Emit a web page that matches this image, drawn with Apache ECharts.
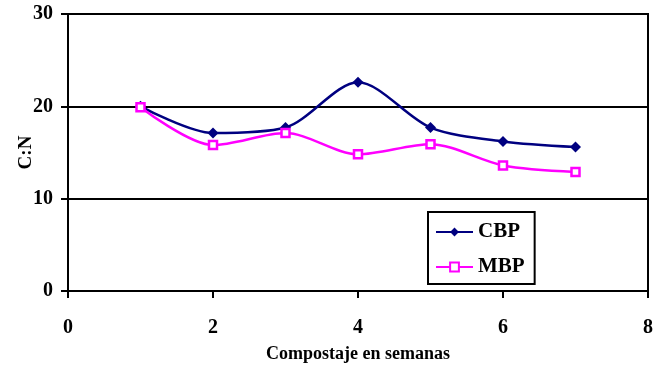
<!DOCTYPE html>
<html>
<head>
<meta charset="utf-8">
<script src="https://cdn.jsdelivr.net/npm/echarts@6/dist/echarts.min.js"></script>
<style>html,body{margin:0;padding:0;background:#fff}#c{width:656px;height:368px}</style>
</head>
<body>
<div id="c"></div>
<script>
var weeks = [1, 2, 3, 4, 5, 6, 7];
var cbp = [20.0, 17.1, 17.7, 22.6, 17.7, 16.2, 15.6];
var mbp = [19.9, 15.8, 17.1, 14.8, 15.9, 13.6, 12.9];
var xTicks = [0, 2, 4, 6, 8];
var yTicks = [0, 10, 20, 30];

function pairs(xs, ys) { return xs.map(function (x, i) { return [x, ys[i]]; }); }

var font = '"Liberation Serif", "Times New Roman", serif';
var chart = echarts.init(document.getElementById('c'), null, {renderer: 'canvas'});
chart.setOption({
  backgroundColor: '#ffffff',
  animation: false,
  grid: {left: 68, right: 6, top: 14, bottom: 76, show: true, borderColor: '#000', borderWidth: 2, containLabel: false},
  legend: {
    orient: 'vertical', left: 428, top: 212,
    padding: [9, 10, 6, 7], itemGap: 13, itemWidth: 37, itemHeight: 11,
    borderColor: '#000', borderWidth: 2, borderRadius: 0,
    textStyle: {fontFamily: font, fontWeight: 'bold', fontSize: 21, color: '#000', lineHeight: 22},
    data: ['CBP', 'MBP']
  },
  xAxis: {
    type: 'value', min: xTicks[0], max: xTicks[xTicks.length - 1], interval: 2,
    name: 'Compostaje en semanas', nameLocation: 'middle', nameGap: 54, nameMoveOverlap: false,
    nameTextStyle: {fontFamily: font, fontWeight: 'bold', fontSize: 18, color: '#000'},
    axisLine: {show: true, lineStyle: {color: '#000', width: 2}},
    axisTick: {show: true, inside: false, length: 7, lineStyle: {color: '#000', width: 2}},
    axisLabel: {margin: 27, fontFamily: font, fontWeight: 'bold', fontSize: 20, color: '#000'},
    splitLine: {show: false}
  },
  yAxis: {
    type: 'value', min: yTicks[0], max: yTicks[yTicks.length - 1], interval: 10,
    name: 'C:N', nameLocation: 'middle', nameGap: 32, nameRotate: 90, nameMoveOverlap: false,
    nameTextStyle: {fontFamily: font, fontWeight: 'bold', fontSize: 19, color: '#000'},
    axisLine: {show: true, lineStyle: {color: '#000', width: 2}},
    axisTick: {show: true, inside: false, length: 7, lineStyle: {color: '#000', width: 2}},
    axisLabel: {margin: 15, fontFamily: font, fontWeight: 'bold', fontSize: 20, color: '#000'},
    splitLine: {show: true, lineStyle: {color: '#000', width: 2}}
  },
  series: [
    {
      name: 'CBP', type: 'line', data: pairs(weeks, cbp), smooth: 0.3,
      symbol: 'diamond', symbolSize: 11,
      lineStyle: {color: '#000080', width: 2.5},
      itemStyle: {color: '#000080', borderColor: '#000080', borderWidth: 0}
    },
    {
      name: 'MBP', type: 'line', data: pairs(weeks, mbp), smooth: 0.3,
      symbol: 'rect', symbolSize: 8,
      lineStyle: {color: '#ff00ff', width: 2.5},
      itemStyle: {color: '#ffffff', borderColor: '#ff00ff', borderWidth: 2.5}
    }
  ]
});
</script>
</body>
</html>
